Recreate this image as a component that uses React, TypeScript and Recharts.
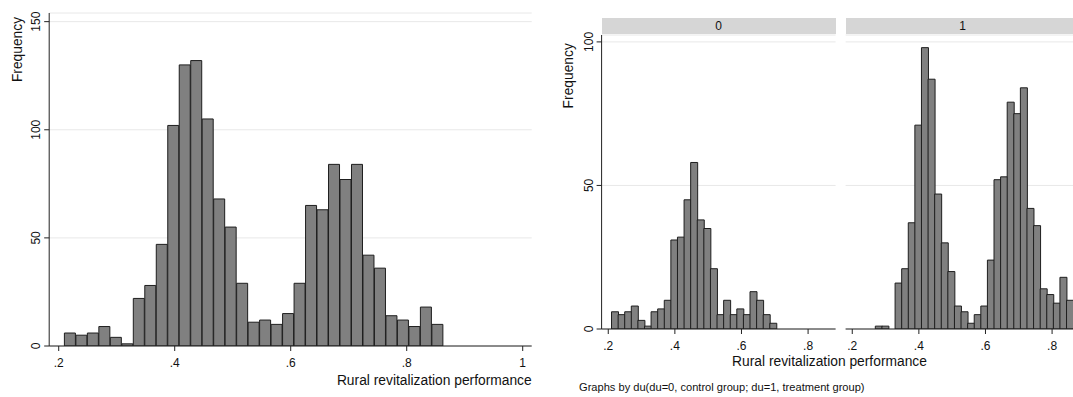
import { Bar, BarChart, CartesianGrid, XAxis, YAxis } from "recharts";

// histogram bins (same bins for all three panels)
const BIN_START = 0.2098;
const BIN_WIDTH = 0.0198;

// counts per bin
const ALL_COUNTS = [6, 5, 6, 9, 4, 1, 22, 28, 47, 102, 130, 132, 105, 68, 55, 29, 11, 12, 10, 15, 29, 65, 63, 84, 77, 84, 42, 36, 14, 12, 9, 18, 10];
const CONTROL_COUNTS = [6, 5, 6, 8, 3, 1, 6, 7, 10, 31, 32, 45, 58, 38, 35, 21, 5, 10, 5, 7, 5, 13, 10, 5, 2];
const TREATED_COUNTS = [0, 0, 0, 1, 1, 0, 16, 21, 37, 71, 98, 87, 47, 30, 20, 8, 6, 2, 5, 8, 24, 52, 53, 79, 75, 84, 42, 36, 14, 12, 9, 18, 10];

const LEFT_X_TICKS = [0.2, 0.4, 0.6, 0.8, 1];
const LEFT_Y_TICKS = [0, 50, 100, 150];
const PANEL_X_TICKS = [0.2, 0.4, 0.6, 0.8];
const PANEL_Y_TICKS = [0, 50, 100];

const FONT = "'Liberation Sans', Arial, sans-serif";
const INK = "#111";
const BAR_FILL = "#808080";
const BAR_STROKE = "#1e1e1e";
const GRID = "#e8e8e8";

function toRows(counts: number[]) {
  return counts.map((count, i) => ({ mid: BIN_START + (i + 0.5) * BIN_WIDTH, count }));
}

function formatX(value: number) {
  if (value === 1) return "1";
  return String(value).replace(/^0/, "");
}

function RotatedTick(props: any) {
  const { x, y, payload } = props;
  return (
    <g transform={`translate(${x},${y}) rotate(-90)`}>
      <text textAnchor="middle" fontSize={12} fill={INK} fontFamily={FONT}>
        {payload.value}
      </text>
    </g>
  );
}

const xTickStyle = { fontSize: 12, fill: INK, fontFamily: FONT };

function Histogram({
  counts,
  width,
  height,
  margin,
  xDomain,
  yDomain,
  xTicks,
  yTicks,
  showY,
}: {
  counts: number[];
  width: number;
  height: number;
  margin: { top: number; right: number; bottom: number; left: number };
  xDomain: [number, number];
  yDomain: [number, number];
  xTicks: number[];
  yTicks: number[];
  showY: boolean;
}) {
  return (
    <BarChart width={width} height={height} data={toRows(counts)} margin={margin} barCategoryGap={0} barGap={0}>
      <CartesianGrid vertical={false} stroke={GRID} strokeWidth={1} />
      <XAxis
        dataKey="mid"
        type="number"
        scale="linear"
        domain={xDomain}
        allowDataOverflow
        ticks={xTicks}
        tickFormatter={formatX}
        tick={xTickStyle}
        tickSize={5}
        tickMargin={7.5}
        height={30}
        stroke="#222"
        interval={0}
      />
      <YAxis
        type="number"
        domain={yDomain}
        allowDataOverflow
        ticks={yTicks}
        tick={<RotatedTick />}
        tickSize={5}
        tickMargin={4}
        width={40}
        stroke="#222"
        hide={!showY}
        interval={0}
      />
      <Bar dataKey="count" fill={BAR_FILL} stroke={BAR_STROKE} strokeWidth={1} isAnimationActive={false} />
    </BarChart>
  );
}

function Strip({ left, width, label }: { left: number; width: number; label: string }) {
  return (
    <div
      style={{
        position: "absolute",
        left,
        top: 18,
        width,
        height: 16,
        background: "#d6d6d6",
        textAlign: "center",
        fontSize: 12,
        lineHeight: "16px",
        color: INK,
        fontFamily: FONT,
      }}
    >
      {label}
    </div>
  );
}

export default function App() {
  return (
    <div
      style={{
        position: "absolute",
        left: 0,
        top: 0,
        width: 1073,
        height: 397,
        overflow: "hidden",
        background: "#fff",
        fontFamily: FONT,
      }}
    >
      <div style={{ position: "absolute", left: 0, top: 0 }}>
        <Histogram
          counts={ALL_COUNTS}
          width={540}
          height={397}
          margin={{ top: 13, right: 8.3, bottom: 21, left: 9.2 }}
          xDomain={[0.1836, 1.0155]}
          yDomain={[0, 154]}
          xTicks={LEFT_X_TICKS}
          yTicks={LEFT_Y_TICKS}
          showY
        />
      </div>

      <Strip left={601.6} width={234} label="0" />
      <div style={{ position: "absolute", left: 540, top: 0 }}>
        <Histogram
          counts={CONTROL_COUNTS}
          width={300}
          height={397}
          margin={{ top: 35, right: 4.4, bottom: 38, left: 21.6 }}
          xDomain={[0.18, 0.8826]}
          yDomain={[0, 102.4]}
          xTicks={PANEL_X_TICKS}
          yTicks={PANEL_Y_TICKS}
          showY
        />
      </div>

      <Strip left={845.6} width={234} label="1" />
      <div style={{ position: "absolute", left: 820, top: 0 }}>
        <Histogram
          counts={TREATED_COUNTS}
          width={260}
          height={397}
          margin={{ top: 35, right: 0.4, bottom: 38, left: 25.6 }}
          xDomain={[0.18, 0.8826]}
          yDomain={[0, 102.4]}
          xTicks={PANEL_X_TICKS}
          yTicks={PANEL_Y_TICKS}
          showY={false}
        />
      </div>

      <svg
        width={1073}
        height={397}
        style={{ position: "absolute", left: 0, top: 0, pointerEvents: "none" }}
        fontFamily={FONT}
        fill={INK}
      >
        <text transform="translate(22,49.5) rotate(-90)" textAnchor="middle" fontSize={13.8}>
          Frequency
        </text>
        <text x={531.7} y={384.5} textAnchor="end" fontSize={13.8}>
          Rural revitalization performance
        </text>
        <text transform="translate(572.5,75.8) rotate(-90)" textAnchor="middle" fontSize={13.8}>
          Frequency
        </text>
        <text x={829.5} y={366} textAnchor="middle" fontSize={13.8}>
          Rural revitalization performance
        </text>
        <text x={579} y={391} fontSize={11.1}>
          Graphs by du(du=0, control group; du=1, treatment group)
        </text>
      </svg>
    </div>
  );
}
